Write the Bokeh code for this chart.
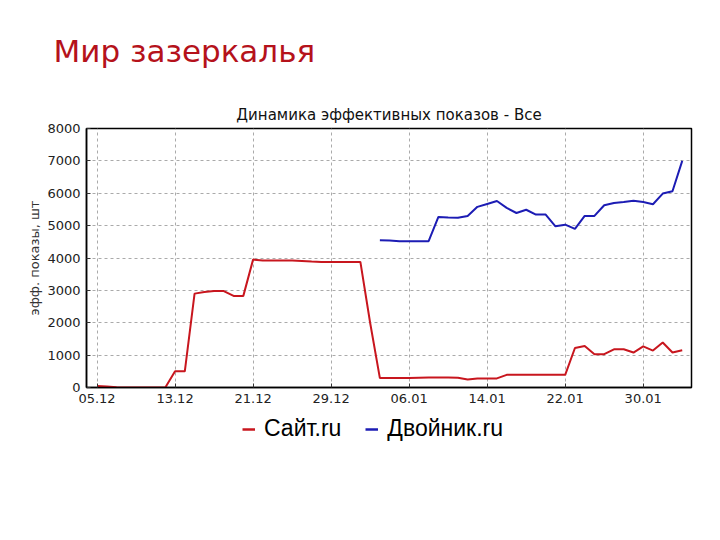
import pandas as pd
from bokeh.plotting import figure
from bokeh.layouts import column
from bokeh.models import (Range1d, FixedTicker, DatetimeTickFormatter, Title,
                          Legend, LegendItem)
from bokeh.embed import file_html
from bokeh.resources import INLINE

# ---- data ----
site_start = "2010-12-05"
site_values = [50, 30, 10, 0, 0, 0, 0, 0, 500, 500,
               2900, 2950, 2980, 2980, 2830, 2830, 3950, 3920, 3920, 3920,
               3920, 3910, 3890, 3880, 3880, 3880, 3880, 3880, 2000, 290,
               290, 290, 290, 300, 310, 310, 310, 300, 250, 280,
               280, 280, 390, 390, 390, 390, 390, 390, 390, 1220,
               1280, 1030, 1030, 1180, 1180, 1080, 1270, 1140, 1390, 1080,
               1150]
twin_start = "2011-01-03"
twin_values = [4550, 4540, 4520, 4520, 4520, 4520, 5270, 5250, 5240, 5300,
               5580, 5670, 5760, 5550, 5390, 5490, 5340, 5340, 4980, 5030,
               4900, 5300, 5300, 5630, 5700, 5730, 5770, 5730, 5660, 5990,
               6060, 7000]
tick_dates = ["2010-12-05", "2010-12-13", "2010-12-21", "2010-12-29",
              "2011-01-06", "2011-01-14", "2011-01-22", "2011-01-30"]
y_ticks = [0, 1000, 2000, 3000, 4000, 5000, 6000, 7000, 8000]
series_names = ["Сайт.ru", "Двойник.ru"]
series_colors = ["#C8161E", "#1C1CB4"]

site_dates = pd.date_range(site_start, periods=len(site_values), freq="D")
twin_dates = pd.date_range(twin_start, periods=len(twin_values), freq="D")


def ms(ts):
    return pd.Timestamp(ts).value / 1e6


DAY = 86400000.0
x0 = ms(site_start) - 1.08 * DAY
x1 = ms(site_start) + 60.95 * DAY

p = figure(frame_width=605, frame_height=259, x_axis_type="datetime",
           x_range=Range1d(x0, x1), y_range=Range1d(0, 8000),
           output_backend="svg", toolbar_location=None,
           min_border_left=86, min_border_right=29,
           min_border_top=127, min_border_bottom=26)

p.background_fill_color = "white"
p.border_fill_color = "white"
p.outline_line_color = "black"
p.outline_line_width = 1.5

# big heading (outermost title)
p.title.text = "Мир зазеркалья"
p.title.align = "left"
p.title.offset = -33
p.title.text_font = "DejaVu Sans"
p.title.text_font_size = "31px"
p.title.text_font_style = "normal"
p.title.text_color = "#B5121B"
p.title.standoff = 60

# chart title just above the frame
chart_title = Title(text="Динамика эффективных показов - Все", align="center",
                    text_font="DejaVu Sans", text_font_size="15px",
                    text_font_style="normal", text_color="#111111")
p.add_layout(chart_title, "above")

r1 = p.line(site_dates, site_values, line_color=series_colors[0], line_width=2)
r2 = p.line(twin_dates, twin_values, line_color=series_colors[1], line_width=2)

# axes
p.xaxis.ticker = FixedTicker(ticks=[ms(d) for d in tick_dates])
fmt = "%d.%m"
p.xaxis.formatter = DatetimeTickFormatter(
    milliseconds=fmt, seconds=fmt, minsec=fmt, minutes=fmt, hourmin=fmt,
    hours=fmt, days=fmt, months=fmt, years=fmt)
p.yaxis.ticker = FixedTicker(ticks=y_ticks)
p.yaxis.axis_label = "эфф. показы, шт"

for ax in (p.xaxis[0], p.yaxis[0]):
    ax.axis_line_color = "black"
    ax.axis_line_width = 1.5
    ax.major_tick_in = 4
    ax.major_tick_out = 0
    ax.major_tick_line_color = "#333333"
    ax.minor_tick_line_color = None
    ax.major_label_text_font = "DejaVu Sans"
    ax.major_label_text_font_size = "13px"
    ax.major_label_text_color = "#222222"
    ax.major_label_standoff = 6

p.yaxis.axis_label_text_font = "DejaVu Sans"
p.yaxis.axis_label_text_font_size = "13px"
p.yaxis.axis_label_text_font_style = "normal"
p.yaxis.axis_label_text_color = "#333333"
p.yaxis.axis_label_standoff = 2

p.grid.grid_line_color = "#AAAAAA"
p.grid.grid_line_dash = "3 3"
p.grid.grid_line_width = 1

# ---- legend strip below the chart ----
# (same series sources, out of this strip's view, only for the legend keys)
LEG_H = 128
lf = figure(frame_width=605, frame_height=LEG_H,
            x_range=Range1d(0, 1), y_range=Range1d(0, 1),
            output_backend="svg", toolbar_location=None,
            x_axis_location=None, y_axis_location=None,
            min_border_left=86, min_border_right=29,
            min_border_top=0, min_border_bottom=0)
lf.grid.visible = False
lf.outline_line_color = None
lf.background_fill_color = "white"
lf.border_fill_color = "white"
k1 = lf.line(x="x", y="y", source=r1.data_source,
             line_color=series_colors[0], line_width=2.5)
k2 = lf.line(x="x", y="y", source=r2.data_source,
             line_color=series_colors[1], line_width=2.5)

legend = Legend(items=[LegendItem(label=series_names[0], renderers=[k1]),
                       LegendItem(label=series_names[1], renderers=[k2])],
                orientation="horizontal", location=(156, 99),
                glyph_width=13, glyph_height=26, label_height=26,
                label_standoff=9, spacing=24,
                padding=0, margin=0, border_line_color=None,
                background_fill_alpha=0,
                label_text_font="Liberation Sans", label_text_font_size="23px",
                label_text_color="black")
lf.add_layout(legend)

layout = column(p, lf, spacing=0)
open("out.html", "w").write(file_html(layout, INLINE))
